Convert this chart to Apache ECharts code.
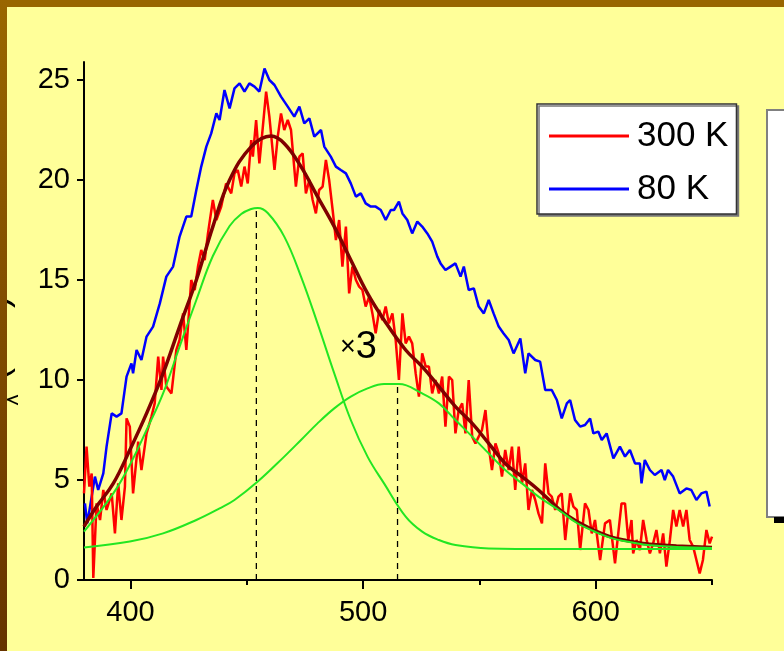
<!DOCTYPE html>
<html lang="en">
<head>
    <meta charset="UTF-8">
    <title>PL spectra</title>
    <script src="https://cdn.jsdelivr.net/npm/echarts@6/dist/echarts.min.js"></script>
    <style>
        body { margin: 0; background: #FFFF99; }
        #main { width: 784px; height: 651px; }
    </style>
</head>
<body>
<div id="main"></div>
<script>
// wavelength (nm) / intensity
var wl300 = [380.0,381.1,382.3,383.3,384.0,385.4,386.9,388.3,389.7,391.9,393.3,394.7,396.1,397.6,398.3,399.7,401.1,403.3,404.7,406.9,
    409.0,410.4,411.9,413.3,414.0,415.4,417.6,419.7,421.1,422.6,424.0,426.1,427.6,429.0,430.4,431.9,433.3,435.4,436.9,439.0,
    441.1,443.3,444.7,446.1,447.6,449.0,450.4,451.9,452.6,454.0,455.4,456.9,458.3,459.7,460.4,461.9,463.3,464.7,466.1,467.6,
    469.0,471.1,472.6,474.0,475.4,476.9,478.3,479.7,481.1,482.6,484.0,485.4,486.9,488.3,489.7,491.1,492.6,494.0,495.4,496.9,
    498.3,499.7,501.1,502.6,504.0,505.4,506.9,508.3,509.7,511.1,512.6,514.0,515.4,516.9,518.3,519.7,521.1,522.6,524.0,525.4,
    526.9,528.3,529.7,531.1,532.6,534.0,535.4,536.9,538.3,539.7,541.1,542.6,544.0,545.4,546.9,548.3,549.7,551.1,552.6,554.0,
    555.4,556.9,558.3,559.7,561.1,562.6,564.0,565.4,566.9,568.3,569.7,571.1,572.6,574.0,575.4,576.9,578.3,579.7,581.1,582.6,
    584.0,585.4,586.9,589.0,590.4,591.9,593.3,595.4,596.9,598.3,599.7,601.9,604.0,606.1,608.3,609.7,611.1,612.6,614.0,615.4,
    616.1,617.6,619.0,620.4,621.9,623.3,624.7,626.1,627.6,629.0,630.4,631.9,633.3,634.7,636.1,637.6,639.0,640.4,641.9,643.3,
    644.7,646.1,647.6,649.0,650.0];
var int300 = [4.33,6.67,4.67,5.33,0.1,3.83,3.0,4.5,3.5,4.33,2.33,4.83,3.0,4.67,8.08,7.67,4.33,6.92,5.5,7.33,
    8.17,8.83,11.17,9.5,11.17,9.67,9.33,11.5,12.0,13.33,11.5,15.0,14.5,15.67,16.5,16.0,17.33,19.0,18.0,18.67,
    19.83,19.33,20.33,20.5,19.67,20.67,19.83,22.0,21.17,23.0,20.83,22.67,24.42,23.17,22.33,20.5,22.17,23.33,22.5,23.0,
    22.5,19.67,21.17,21.33,19.33,20.0,19.0,18.33,19.5,19.67,21.0,20.0,18.5,17.0,18.0,15.67,17.67,14.33,15.67,15.0,
    14.67,14.5,13.67,14.17,13.33,12.33,13.5,13.0,13.67,12.83,13.33,12.0,10.0,13.33,11.83,12.17,11.83,10.33,9.17,11.33,
    10.67,10.67,9.33,10.0,9.33,10.17,7.67,10.17,10.0,7.33,8.5,8.83,7.33,10.0,7.17,6.83,7.17,7.5,8.5,6.67,
    5.5,6.83,6.33,5.17,6.5,5.5,6.67,4.5,6.67,4.83,5.83,3.5,4.5,4.0,3.33,2.83,5.83,4.33,4.17,3.5,
    4.17,4.33,2.0,4.33,3.67,3.5,1.5,3.83,3.5,2.33,3.0,1.0,2.83,3.0,0.83,2.33,3.83,3.83,2.0,3.0,
    1.33,2.0,1.5,3.0,2.0,1.33,1.83,2.5,1.33,2.33,0.67,2.0,3.5,2.67,3.5,2.67,3.5,2.0,1.67,1.0,
    0.33,1.0,2.5,1.83,2.17];

var wl80 = [380.4,381.4,382.6,384.7,386.1,388.3,389.7,391.9,394.0,396.1,398.3,400.4,401.1,402.6,404.7,406.9,409.7,412.6,415.4,418.3,
    421.1,424.0,426.1,428.3,430.4,432.6,434.7,436.9,438.3,440.4,442.6,444.7,446.9,449.0,451.1,453.3,455.4,457.6,459.7,461.9,
    464.7,467.6,470.4,472.6,474.7,476.9,479.0,481.9,483.3,486.1,488.3,490.4,492.6,494.7,496.9,499.0,501.1,503.3,505.4,507.6,
    509.7,511.9,513.3,515.4,516.9,519.0,521.1,523.3,525.4,527.6,529.7,531.9,533.3,535.4,537.6,539.7,541.9,543.3,545.4,547.6,
    549.7,551.9,554.0,556.1,558.3,560.4,562.6,564.7,567.6,569.7,571.1,574.0,576.1,578.3,581.1,583.3,585.4,587.6,589.0,591.1,
    593.3,595.4,597.6,599.0,601.1,602.6,604.7,607.6,610.4,612.6,614.7,616.9,619.0,619.7,621.1,623.3,625.4,628.3,629.7,631.1,
    633.3,636.1,639.0,641.1,643.3,645.4,647.6,649.0];
var int80 = [3.83,2.83,3.67,5.17,4.5,5.33,6.67,8.33,8.17,8.33,10.17,10.83,10.33,11.5,11.0,12.17,12.67,13.83,15.17,15.67,
    17.17,18.17,18.17,19.5,20.67,21.67,22.33,23.33,23.0,24.5,23.58,24.58,24.83,24.42,24.83,24.67,24.42,25.58,25.0,24.75,
    24.17,23.67,23.17,23.67,22.83,23.08,22.17,22.5,21.67,21.17,20.67,20.5,20.33,19.83,19.17,19.33,18.83,18.67,18.67,18.5,
    18.0,18.5,18.5,18.92,18.33,18.0,17.33,17.92,17.67,17.33,16.92,16.17,15.83,15.5,15.67,15.83,15.17,15.67,14.5,14.58,
    13.67,13.33,14.0,13.33,12.67,12.33,12.0,11.33,12.08,10.33,11.33,11.0,10.92,9.5,9.5,9.0,8.08,8.83,9.0,8.0,
    7.67,7.75,8.08,7.33,7.42,7.0,7.33,6.08,6.67,6.17,6.5,5.83,5.83,4.83,6.0,5.5,5.25,5.5,5.0,5.5,
    5.17,4.33,4.58,4.5,4.0,4.33,4.42,3.67];

// fit and its two gaussian components (300 K)
var wlFit = [380.0,385.4,392.6,399.7,406.9,414.0,421.1,428.3,435.4,442.6,451.9,460.4,466.1,473.3,480.4,487.6,494.7,501.9,509.0,518.3,
    525.4,532.6,539.7,546.9,554.0,561.1,568.3,575.4,584.7,591.9,599.0,606.1,613.3,620.4,627.6,634.7,650.0];
var intFit = [2.67,3.67,4.83,6.5,8.33,10.33,12.67,15.0,17.67,20.0,21.67,22.2,21.83,20.67,19.17,17.67,16.0,14.33,13.0,11.5,
    10.67,9.67,8.67,7.83,6.83,5.83,5.17,4.5,3.5,2.92,2.5,2.17,1.97,1.83,1.75,1.7,1.63];

var wlG1 = [380.0,392.6,399.7,406.9,414.0,421.1,428.3,435.4,442.6,447.6,451.9,454.7,459.0,466.1,473.3,480.4,487.6,494.7,501.9,509.0,
    518.3,525.4,532.6,539.7,554.0,580.0,650.0];
var intG1 = [2.42,4.33,5.75,7.5,9.33,11.67,14.0,16.2,17.7,18.3,18.55,18.6,18.35,17.17,15.17,12.83,10.33,8.0,6.17,4.83,
    3.17,2.42,2.0,1.75,1.58,1.55,1.55];

var wlG2 = [380.0,399.7,414.0,428.3,438.3,444.7,454.7,466.1,473.3,480.4,487.6,494.7,501.9,509.0,515.4,525.4,532.6,539.7,546.9,554.0,
    561.1,568.3,575.4,584.7,591.9,599.0,606.1,613.3,620.4,627.6,634.7,650.0];
var intG2 = [1.63,1.92,2.33,3.0,3.58,4.0,4.92,6.17,7.0,7.83,8.58,9.17,9.58,9.8,9.8,9.33,8.83,8.0,7.17,6.33,
    5.5,4.83,4.17,3.45,2.85,2.45,2.12,1.92,1.78,1.7,1.65,1.6];

var peakWl = [454.1, 514.8];
var peakInt = [18.6, 9.8];

var xTicks = [400, 500, 600];
var xMinorTicks = [450, 550, 650];
var yTicks = [0, 5, 10, 15, 20, 25];

function pairs(xs, ys) {
    return xs.map(function (x, i) { return [x, ys[i]]; });
}

var FONT = '"Liberation Sans", Arial, sans-serif';

var myChart = echarts.init(document.getElementById('main'));

var option = {
    backgroundColor: '#FFFF99',
    animation: false,
    textStyle: { fontFamily: FONT },
    grid: { left: 84, right: 72, top: 62, bottom: 71 },
    legend: {
        data: ['300 K', '80 K'],
        orient: 'vertical',
        left: 537,
        top: 104,
        padding: [12, 8, 5, 12],
        icon: 'rect',
        itemWidth: 80,
        itemHeight: 3,
        itemGap: 13,
        backgroundColor: '#FFFFFF',
        borderColor: '#333333',
        borderWidth: 1.5,
        shadowColor: '#777777',
        shadowOffsetX: 2,
        shadowOffsetY: 2,
        textStyle: { fontFamily: FONT, fontSize: 35, lineHeight: 40, color: '#000', padding: [0, 0, 0, 3] }
    },
    xAxis: [{
        type: 'value',
        min: 380,
        max: 650,
        axisLine: { lineStyle: { color: '#000', width: 2 } },
        axisTick: { customValues: xTicks, length: 9, lineStyle: { color: '#000', width: 2 } },
        axisLabel: { customValues: xTicks, fontSize: 29, color: '#000', margin: 18, fontFamily: FONT },
        splitLine: { show: false }
    }, {
        type: 'value',
        min: 380,
        max: 650,
        position: 'bottom',
        axisLine: { show: false },
        axisTick: { customValues: xMinorTicks, length: 5, lineStyle: { color: '#000', width: 2 } },
        axisLabel: { show: false },
        splitLine: { show: false }
    }],
    yAxis: {
        type: 'value',
        min: 0,
        max: 25.9,
        axisLine: { show: true, lineStyle: { color: '#000', width: 2 } },
        axisTick: { show: true, customValues: yTicks, length: 7, lineStyle: { color: '#000', width: 2 } },
        axisLabel: { customValues: yTicks, fontSize: 29, color: '#000', margin: 14, fontFamily: FONT },
        splitLine: { show: false }
    },
    series: [{
        name: '80 K',
        type: 'line',
        data: pairs(wl80, int80),
        symbol: 'none',
        color: '#0000FF',
        lineStyle: { width: 2.5 }
    }, {
        name: '300 K',
        type: 'line',
        data: pairs(wl300, int300),
        symbol: 'none',
        color: '#FF0000',
        lineStyle: { width: 2.5 }
    }, {
        name: 'fit',
        type: 'line',
        data: pairs(wlFit, intFit),
        smooth: 0.4,
        symbol: 'none',
        color: '#800000',
        lineStyle: { width: 3.5 }
    }, {
        name: 'g1',
        type: 'line',
        data: pairs(wlG1, intG1),
        smooth: 0.4,
        symbol: 'none',
        color: '#22E622',
        lineStyle: { width: 2 }
    }, {
        name: 'g2',
        type: 'line',
        data: pairs(wlG2, intG2),
        smooth: 0.4,
        symbol: 'none',
        color: '#22E622',
        lineStyle: { width: 2 }
    }, {
        name: 'peak1',
        type: 'line',
        data: [[peakWl[0], 0], [peakWl[0], peakInt[0]]],
        symbol: 'none',
        color: '#000',
        lineStyle: { width: 1.3, type: [6, 5] }
    }, {
        name: 'peak2',
        type: 'line',
        data: [[peakWl[1], 0], [peakWl[1], peakInt[1]]],
        symbol: 'none',
        color: '#000',
        lineStyle: { width: 1.3, type: [6, 5] }
    }],
    graphic: [
        // "x3" note
        {
            type: 'text', left: 340, top: 329, z: 50,
            style: {
                text: '{a|×}{b|3}',
                rich: {
                    a: { fontSize: 27, fontFamily: FONT, fill: '#000' },
                    b: { fontSize: 38, fontFamily: FONT, fill: '#000' }
                }
            }
        },
        // y axis title, mostly hidden behind the frame
        {
            type: 'text', x: 15, y: 338, rotation: Math.PI / 2, z: 40,
            style: {
                text: '(a.u.)',
                align: 'center', verticalAlign: 'bottom',
                fontSize: 36, fontFamily: FONT, fill: '#000'
            }
        },
        {
            type: 'text', x: 23, y: 400, rotation: Math.PI / 2, z: 40,
            style: {
                text: 'λ',
                align: 'center', verticalAlign: 'bottom',
                fontSize: 22, fontFamily: FONT, fill: '#000'
            }
        },
        {
            type: 'text', x: 12, y: 422, rotation: Math.PI / 2, z: 40,
            style: {
                text: 'I',
                align: 'center', verticalAlign: 'bottom',
                fontSize: 36, fontFamily: FONT, fill: '#000'
            }
        },
        // second panel peeking in on the right
        {
            type: 'rect', z: 40,
            shape: { x: 767, y: 110, width: 40, height: 407 },
            style: { fill: '#FFFFFF', stroke: '#808080', lineWidth: 2 }
        },
        {
            type: 'rect', z: 41,
            shape: { x: 774, y: 517, width: 12, height: 6 },
            style: { fill: '#000' }
        },
        // brown frame
        {
            type: 'rect', z: 60,
            shape: { x: 0, y: 0, width: 784, height: 7 },
            style: { fill: '#996600' }
        },
        {
            type: 'rect', z: 60,
            shape: { x: 0, y: 0, width: 7, height: 651 },
            style: {
                fill: new echarts.graphic.LinearGradient(0, 0, 0, 1, [
                    { offset: 0, color: '#996600' },
                    { offset: 1, color: '#663300' }
                ])
            }
        }
    ]
};

myChart.setOption(option);
</script>
</body>
</html>
